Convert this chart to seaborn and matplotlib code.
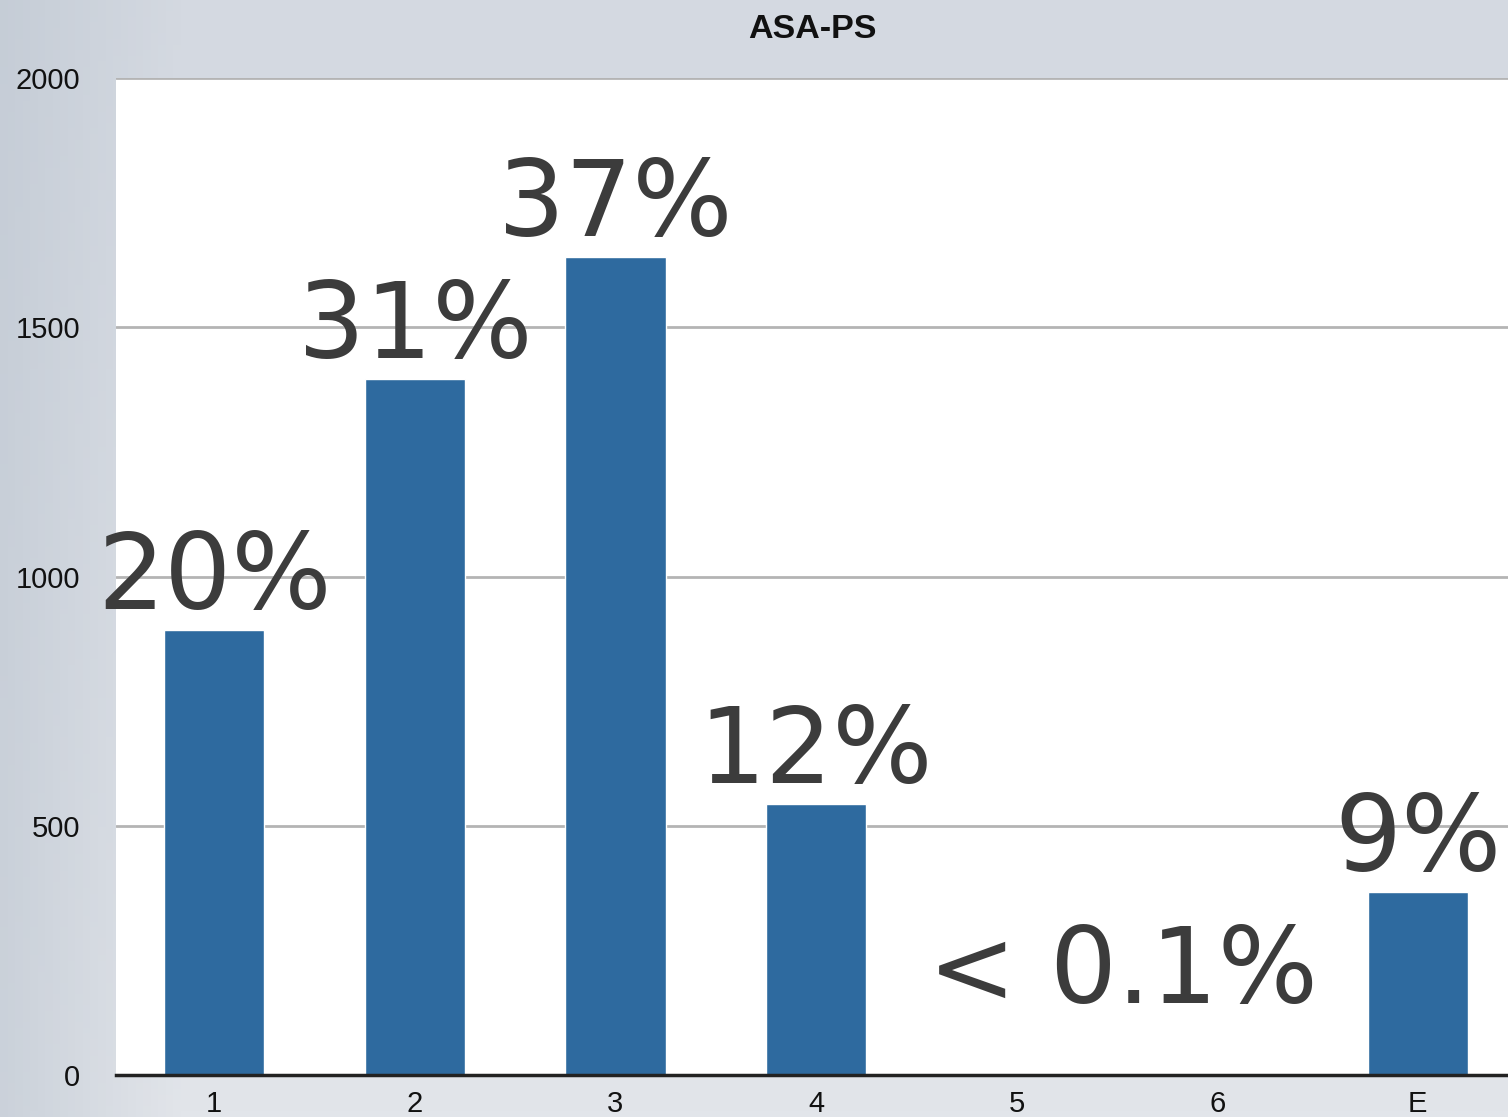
#Importing libraries
import numpy as np
import pandas as pd
import matplotlib
matplotlib.use("Agg")
import matplotlib.pyplot as plt
import seaborn as sns

#Data
asa_class = ['1', '2', '3', '4', '5', '6', 'E']
patients = [893, 1396, 1641, 544, 0, 0, 367]
pct_labels = ['20%', '31%', '37%', '12%', '', '', '9%']
small_label = '< 0.1%'

asa_data = pd.DataFrame({'asa_class': asa_class, 'patients': patients})

sns.set_style("white")
plt.rcParams['font.family'] = ['Liberation Sans', 'DejaVu Sans']

fig = plt.figure(figsize=(15.08, 11.17), dpi=100)

#Gray-blue slide background
bg = fig.add_axes([0, 0, 1, 1], zorder=-5)
xx, yy = np.meshgrid(np.linspace(0, 1, 200), np.linspace(0, 1, 200))
left_col = np.array([188, 197, 208]) / 255
top_col = np.array([212, 217, 225]) / 255
bot_col = np.array([226, 229, 234]) / 255
vert = top_col[None, None, :] * (1 - yy[..., None]) + bot_col[None, None, :] * yy[..., None]
w = np.clip(1 - xx / 0.12, 0, 1)[..., None] * 0.6
img = vert * (1 - w) + left_col[None, None, :] * w
bg.imshow(img, aspect='auto', extent=[0, 1, 0, 1], origin='upper')
bg.axis('off')

ax = fig.add_axes([116 / 1508, 42 / 1117, 1 - 116 / 1508, (1075 - 78) / 1117])
ax.set_facecolor('white')

sns.barplot(data=asa_data, x='asa_class', y='patients', order=asa_class,
            color='#2e6a9f', saturation=1, width=0.5, ax=ax, zorder=3)

ax.set_ylim(0, 2000)
ax.set_xlim(-0.49, 6.45)
ax.set_yticks([0, 500, 1000, 1500, 2000])
ax.yaxis.grid(True, color='#b4b4b4', linewidth=2, zorder=0)
ax.set_axisbelow(True)
for s in ['top', 'right', 'left']:
    ax.spines[s].set_visible(False)
ax.spines['bottom'].set_color('#222222')
ax.spines['bottom'].set_linewidth(2.5)
ax.spines['bottom'].set_zorder(4)
ax.tick_params(axis='both', length=0, labelsize=21, colors='#111111')
ax.tick_params(axis='y', pad=26)
ax.tick_params(axis='x', pad=11)
ax.set_xlabel('')
ax.set_ylabel('')
ax.set_title('ASA-PS', fontsize=24.5, fontweight='bold', pad=29, color='#111111')

#Big percentage labels above bars
for i, (val, lab) in enumerate(zip(patients, pct_labels)):
    if lab:
        ax.annotate(lab, (i, val), xytext=(0, 15), textcoords='offset points',
                    ha='center', va='baseline', fontsize=76, color='#3c3c3c',
                    family='DejaVu Sans', zorder=5, annotation_clip=False)
ax.annotate(small_label, (4.53, 145), ha='center', va='baseline', fontsize=76,
            color='#3c3c3c', family='DejaVu Sans', zorder=5)

plt.savefig('out.png', dpi=100)
